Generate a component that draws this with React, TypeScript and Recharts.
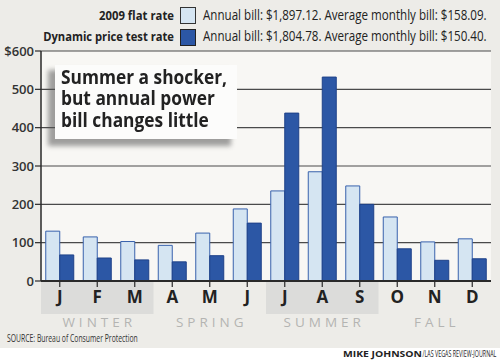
import { useLayoutEffect, useRef, useState } from "react";
import {
  BarChart,
  Bar,
  XAxis,
  YAxis,
  CartesianGrid,
  ReferenceArea,
} from "recharts";

const monthKeys = ["Jan", "Feb", "Mar", "Apr", "May", "Jun", "Jul", "Aug", "Sep", "Oct", "Nov", "Dec"];
const monthLabels = ["J", "F", "M", "A", "M", "J", "J", "A", "S", "O", "N", "D"];
const flatRate = [130, 115, 103, 93, 125, 188, 235, 285, 248, 167, 102, 110];
const dynamicRate = [68, 60, 55, 50, 66, 151, 438, 532, 200, 84, 54, 58];

const yTicks = [0, 100, 200, 300, 400, 500, 600];

const seasonNames = ["WINTER", "SPRING", "SUMMER", "FALL"];
const seasonStart = ["Jan", "Apr", "Jul", "Oct"];
const seasonEnd = ["Mar", "Jun", "Sep", "Dec"];
const seasonShaded = [true, false, true, false];

const seriesNames = ["2009 flat rate", "Dynamic price test rate"];
const seriesNotes = [
  "Annual bill: $1,897.12. Average monthly bill: $158.09.",
  "Annual bill: $1,804.78. Average monthly bill: $150.40.",
];

const titleText = "Summer a shocker, but annual power bill changes little";

const data = monthKeys.map((key, i) => ({
  key,
  label: monthLabels[i],
  flat: flatRate[i],
  dynamic: dynamicRate[i],
}));

const LIGHT = "#d5e5f2";
const LIGHT_EDGE = "#3862ad";
const DARK = "#2c57a5";
const DARK_EDGE = "#1f4289";
const BG = "#edece8";
const PLOT_BG = "#f8f7f4";
const FONT = "'Open Sans', sans-serif";

// squeezes a line of text horizontally so it spans the given width
const FitText = ({ x, y, width, anchor = "start", children, ...rest }: any) => {
  const ref = useRef<SVGTextElement>(null);
  const [sx, setSx] = useState(1);
  useLayoutEffect(() => {
    if (!ref.current) return;
    const w = ref.current.getComputedTextLength();
    if (w > 0) setSx(width / w);
  }, [width, children]);
  return (
    <text
      ref={ref}
      x={0}
      y={0}
      textAnchor={anchor}
      transform={`translate(${x},${y}) scale(${sx},1)`}
      {...rest}
    >
      {children}
    </text>
  );
};

// headline as one wrapped html block, narrowed to the box
const Headline = () => {
  const ref = useRef<HTMLDivElement>(null);
  const [sx, setSx] = useState(1);
  useLayoutEffect(() => {
    const el = ref.current;
    if (!el || !el.firstChild) return;
    const range = document.createRange();
    range.setStart(el.firstChild, 0);
    range.setEnd(el.firstChild, "Summer a shocker,".length);
    const w = range.getBoundingClientRect().width / sx;
    if (w > 0) setSx(166 / w);
  }, []);
  return (
    <div
      ref={ref}
      style={{
        position: "absolute",
        left: 61,
        top: 65.5,
        width: 200,
        fontFamily: FONT,
        fontSize: 20,
        fontWeight: 700,
        lineHeight: "21.5px",
        color: "#222",
        transform: `scaleX(${sx})`,
        transformOrigin: "0 0",
        whiteSpace: "normal",
      }}
    >
      {titleText}
    </div>
  );
};

const SeasonLabel = ({ viewBox, name }: any) => {
  if (!viewBox) return null;
  return (
    <text
      x={viewBox.x + viewBox.width / 2 + 2}
      y={viewBox.y + viewBox.height + 13}
      textAnchor="middle"
      fontFamily={FONT}
      fontSize={13.5}
      letterSpacing={4}
      fill="#b4b4b2"
    >
      {name}
    </text>
  );
};

const Overlay = () => (
  <svg
    width={500}
    height={364}
    style={{ position: "absolute", left: 0, top: 0, pointerEvents: "none" }}
    fontFamily={FONT}
  >
    <defs>
      <filter id="shadow" x="-20%" y="-20%" width="140%" height="140%">
        <feGaussianBlur stdDeviation="2.5" />
      </filter>
    </defs>

    {/* legend */}
    <FitText x={174} y={19.5} width={75} anchor="end" fontSize={13} fontWeight={700} fill="#222">
      {seriesNames[0]}
    </FitText>
    <rect x={180.5} y={7.5} width={15} height={16} fill={LIGHT} stroke="#333" />
    <FitText x={203} y={19.5} width={284} fontSize={14} fill="#222">
      {seriesNotes[0]}
    </FitText>
    <FitText x={174} y={40.5} width={131} anchor="end" fontSize={13} fontWeight={700} fill="#222">
      {seriesNames[1]}
    </FitText>
    <rect x={180.5} y={29.5} width={15} height={16} fill={DARK} stroke="#222" />
    <FitText x={203} y={40.5} width={284} fontSize={14} fill="#222">
      {seriesNotes[1]}
    </FitText>

    {/* headline box */}
    <rect x={48} y={70} width={183} height={76} fill="#555" opacity={0.55} filter="url(#shadow)" />
    <rect x={55} y={65} width={182} height={74} fill="#fcfcfb" />

    {/* source + credit */}
    <FitText x={7} y={342} width={131} fontSize={10} fill="#333">
      SOURCE: Bureau of Consumer Protection
    </FitText>
    <FitText x={343} y={357} width={79} fontSize={9.5} fontWeight={700} fill="#222">
      MIKE JOHNSON
    </FitText>
    <FitText x={422.5} y={357} width={74} fontSize={9.5} fill="#222">
      /LAS VEGAS REVIEW-JOURNAL
    </FitText>
  </svg>
);

export default function App() {
  return (
    <div
      style={{
        position: "absolute",
        left: 0,
        top: 0,
        width: 500,
        height: 364,
        background: "#ffffff",
        fontFamily: FONT,
      }}
    >
      <div style={{ position: "absolute", left: 0, top: 0, width: 500, height: 348, background: BG }} />
      <div style={{ position: "absolute", left: 0, top: 0 }}>
        <BarChart
          width={500}
          height={364}
          data={data}
          margin={{ top: 51, right: 9, bottom: 50, left: 0 }}
          barCategoryGap="12.7%"
          barGap={0}
        >
          <CartesianGrid
            vertical={false}
            stroke="#4a4a4a"
            strokeWidth={1.2}
            fill={PLOT_BG}
            fillOpacity={1}
          />
          {seasonNames.map((name, i) => (
            <ReferenceArea
              key={name}
              x1={seasonStart[i]}
              x2={seasonEnd[i]}
              y1={-86}
              y2={0}
              ifOverflow="visible"
              fill={seasonShaded[i] ? "#dcdcda" : "none"}
              fillOpacity={1}
              stroke="none"
              label={<SeasonLabel name={name} />}
            />
          ))}
          <XAxis
            dataKey="key"
            height={33}
            tickFormatter={(v, i) => monthLabels[i] ?? v}
            axisLine={{ stroke: "#2a2a2a", strokeWidth: 2 }}
            tickLine={{ stroke: "#2a2a2a", strokeWidth: 1.2 }}
            tickSize={6}
            tickMargin={4}
            tick={{ fontSize: 17, fontWeight: 700, fill: "#222", fontFamily: FONT }}
            interval={0}
          />
          <YAxis
            width={41}
            domain={[0, 600]}
            ticks={yTicks}
            interval={0}
            tickFormatter={(v) => (v === 600 ? `$${v}` : `${v}`)}
            axisLine={{ stroke: "#2a2a2a", strokeWidth: 1.5 }}
            tickLine={{ stroke: "#2a2a2a", strokeWidth: 1.2 }}
            tickSize={6}
            tickMargin={1}
            tick={{ fontSize: 13, fontWeight: 600, fill: "#333", fontFamily: FONT }}
          />
          <Bar
            dataKey="flat"
            name={seriesNames[0]}
            fill={LIGHT}
            stroke={LIGHT_EDGE}
            strokeWidth={1}
            isAnimationActive={false}
          />
          <Bar
            dataKey="dynamic"
            name={seriesNames[1]}
            fill={DARK}
            stroke={DARK_EDGE}
            strokeWidth={1}
            isAnimationActive={false}
          />
        </BarChart>
      </div>
      <Overlay />
      <Headline />
    </div>
  );
}
